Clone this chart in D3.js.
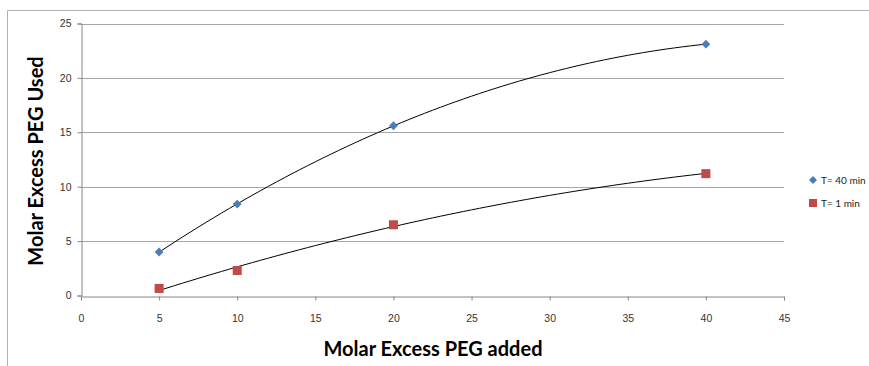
<!DOCTYPE html>
<html>
<head>
<meta charset="utf-8">
<script src="https://cdn.jsdelivr.net/npm/d3@7"></script>
<style>
  body { margin: 0; background: #fff; }
  svg { font-family: Lato, "Open Sans", sans-serif; }
</style>
</head>
<body>
<div id="chart"></div>
<script>
// data
var pegAdded = [5, 10, 20, 40];
var used40min = [4.0, 8.4, 15.6, 23.1];
var used1min = [0.65, 2.3, 6.5, 11.2];
var seriesNames = ["T= 40 min", "T= 1 min"];
var xTicks = [0, 5, 10, 15, 20, 25, 30, 35, 40, 45];
var yTicks = [0, 5, 10, 15, 20, 25];

var W = 869, H = 366;
var margin = {top: 23.5, left: 81, right: 85, bottom: 70.5};

var svg = d3.select("#chart").append("svg")
  .attr("width", W).attr("height", H);

// outer chart frame (only left & top show)
svg.append("path")
  .attr("d", "M7.5," + H + "V10.5H" + W)
  .attr("fill", "none").attr("stroke", "#b0b0b0").attr("stroke-width", 1);

var x = d3.scaleLinear().domain([0, 45]).range([margin.left, W - margin.right]);
var y = d3.scaleLinear().domain([0, 25]).range([H - margin.bottom, margin.top]);

// gridlines
svg.append("g").selectAll("line")
  .data(yTicks.filter(d => d > 0))
  .enter().append("line")
  .attr("x1", x(0)).attr("x2", x(45))
  .attr("y1", d => Math.round(y(d)) + 0.5).attr("y2", d => Math.round(y(d)) + 0.5)
  .attr("stroke", "#a6a6a6");

// axes
var xAxis = svg.append("g")
  .attr("transform", "translate(0," + (Math.round(y(0)) + 0.5) + ")")
  .call(d3.axisBottom(x).tickValues(xTicks).tickSize(4).tickPadding(14));
var yAxis = svg.append("g")
  .attr("transform", "translate(" + (Math.round(x(0)) + 0.5) + ",0)")
  .call(d3.axisLeft(y).tickValues(yTicks).tickSize(4).tickPadding(6));

[xAxis, yAxis].forEach(function(a) {
  a.select(".domain").attr("stroke", "#868686");
  a.selectAll(".tick line").attr("stroke", "#868686");
  a.selectAll(".tick text").attr("fill", "#333").style("font-size", "10.5px");
});

// quadratic least squares trendline
function polyFit(xs, ys) {
  var n = xs.length, s = [0, 0, 0, 0, 0], t = [0, 0, 0];
  for (var i = 0; i < n; i++) {
    for (var k = 0; k < 5; k++) s[k] += Math.pow(xs[i], k);
    for (var k = 0; k < 3; k++) t[k] += ys[i] * Math.pow(xs[i], k);
  }
  var A = [[s[0], s[1], s[2], t[0]], [s[1], s[2], s[3], t[1]], [s[2], s[3], s[4], t[2]]];
  for (var c = 0; c < 3; c++) {
    for (var r = c + 1; r < 3; r++) {
      var f = A[r][c] / A[c][c];
      for (var k = c; k < 4; k++) A[r][k] -= f * A[c][k];
    }
  }
  var b = [0, 0, 0];
  for (var r = 2; r >= 0; r--) {
    var sum = A[r][3];
    for (var k = r + 1; k < 3; k++) sum -= A[r][k] * b[k];
    b[r] = sum / A[r][r];
  }
  return v => b[0] + b[1] * v + b[2] * v * v;
}

var line = d3.line().x(d => x(d[0])).y(d => y(d[1]));
[used40min, used1min].forEach(function(vals) {
  var f = polyFit(pegAdded, vals);
  var pts = d3.range(5, 40.01, 0.5).map(v => [v, f(v)]);
  svg.append("path").attr("d", line(pts))
    .attr("fill", "none").attr("stroke", "#000").attr("stroke-width", 1);
});

// markers
var diamond = d3.symbol().type(d3.symbolDiamond2).size(50);
svg.append("g").selectAll("path")
  .data(pegAdded.map((v, i) => [v, used40min[i]]))
  .enter().append("path")
  .attr("d", diamond)
  .attr("transform", d => "translate(" + x(d[0]) + "," + y(d[1]) + ")")
  .attr("fill", "#4a7ebb");

svg.append("g").selectAll("rect")
  .data(pegAdded.map((v, i) => [v, used1min[i]]))
  .enter().append("rect")
  .attr("x", d => x(d[0]) - 4.5).attr("y", d => y(d[1]) - 4.5)
  .attr("width", 9).attr("height", 9)
  .attr("fill", "#be4b48");

// axis titles
svg.append("text")
  .attr("x", 433).attr("y", 356)
  .attr("text-anchor", "middle")
  .style("font-size", "20px").style("font-weight", "bold")
  .text("Molar Excess PEG added");
svg.append("text")
  .attr("transform", "translate(43,161) rotate(-90)")
  .attr("text-anchor", "middle")
  .style("font-size", "20px").style("font-weight", "bold")
  .text("Molar Excess PEG Used");

// legend
var leg = svg.append("g").attr("transform", "translate(813,180)");
leg.append("path").attr("d", d3.symbol().type(d3.symbolDiamond2).size(40))
  .attr("fill", "#4a7ebb");
leg.append("rect").attr("x", -4).attr("y", 19).attr("width", 8).attr("height", 8)
  .attr("fill", "#be4b48");
leg.selectAll("text").data(seriesNames).enter().append("text")
  .attr("x", 8).attr("y", (d, i) => i * 23 + 3.5)
  .style("font-size", "10px").attr("fill", "#222")
  .text(d => d);
</script>
</body>
</html>
